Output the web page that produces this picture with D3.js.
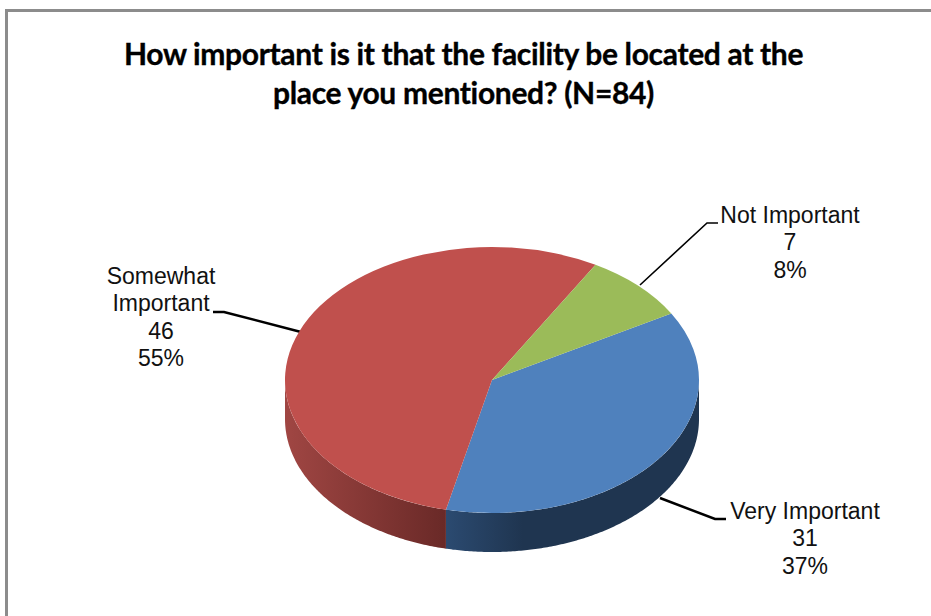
<!DOCTYPE html>
<html>
<head>
<meta charset="utf-8">
<script src="https://cdn.jsdelivr.net/npm/d3@7"></script>
<style>
  html, body { margin: 0; padding: 0; background: #fff; }
  svg { display: block; }
  .title { font-family: Lato, sans-serif; font-weight: 700; font-size: 30px; letter-spacing: -0.33px; fill: #000; stroke: #000; stroke-width: 0.35px; text-anchor: middle; }
  .lab { font-family: "Liberation Sans", Arial, sans-serif; font-size: 23px; fill: #111; text-anchor: middle; }
</style>
</head>
<body>
<div id="chart"></div>
<script>
// Data
var titleLines = ["How important is it that the facility be located at the", "place you mentioned? (N=84)"];
var categories = ["Very Important", "Somewhat Important", "Not Important"];
var counts = [31, 46, 7];
var percents = ["37%", "55%", "8%"];
var colors = ["#4f81bd", "#c0504d", "#9bbb59"];

var width = 931, height = 616;
var cx = 492, cy = 380, rx = 207, ry = 133, depth = 39;

var svg = d3.select("#chart").append("svg")
  .attr("width", width)
  .attr("height", height);

// frame, only top and left show in the crop
svg.append("path")
  .attr("d", "M6.5," + height + "V10.5H" + width)
  .attr("fill", "none")
  .attr("stroke", "#8c8c8c")
  .attr("stroke-width", 3);

svg.selectAll("text.title")
  .data(titleLines)
  .enter()
  .append("text")
    .attr("class", "title")
    .attr("x", 463.5)
    .attr("y", function(d, i){ return 65 + i * 38.5; })
    .text(function(d){ return d; });

// leader lines
var leaders = [
  {pts: [[660, 498], [715, 519], [726, 519]], w: 2.5},
  {pts: [[301, 332], [224, 312], [213, 312]], w: 2.5},
  {pts: [[640, 285], [707, 223], [718, 223]], w: 1.6}
];
svg.selectAll("path.leader")
  .data(leaders)
  .enter()
  .append("path")
    .attr("class", "leader")
    .attr("fill", "none")
    .attr("stroke", "#000")
    .attr("stroke-width", function(d){ return d.w; })
    .attr("d", function(d){ return d3.line()(d.pts); });

// pie, first slice starts 60deg clockwise from 12 o'clock
var slices = d3.pie().sort(null)
  .startAngle(Math.PI / 3)
  .endAngle(Math.PI / 3 + 2 * Math.PI)(counts);

var defs = svg.append("defs");
function sideGradient(id, x1, x2, stops){
  var g = defs.append("linearGradient")
    .attr("id", id)
    .attr("gradientUnits", "userSpaceOnUse")
    .attr("x1", x1).attr("x2", x2)
    .attr("y1", 0).attr("y2", 0);
  stops.forEach(function(s){
    g.append("stop").attr("offset", s[0]).attr("stop-color", s[1]);
  });
}
sideGradient("side-0", 447, 700, [[0, "#2b4a70"], [0.3, "#1f3550"], [1, "#1f3550"]]);
sideGradient("side-1", 285, 447, [[0, "#a04643"], [1, "#692927"]]);

// side wall: only the front half of the rim can be seen
var wall = d3.area()
  .x(function(a){ return cx + rx * Math.sin(a); })
  .y0(function(a){ return cy - ry * Math.cos(a); })
  .y1(function(a){ return cy - ry * Math.cos(a) + depth; });

slices.forEach(function(s, i){
  var a0 = Math.max(s.startAngle, Math.PI / 2);
  var a1 = Math.min(s.endAngle, 3 * Math.PI / 2);
  if(a1 <= a0){ return; }
  var steps = d3.range(a0, a1, 0.01).concat([a1]);
  svg.append("path")
    .attr("d", wall(steps))
    .attr("fill", "url(#side-" + i + ")");
});

// top face is a circle squashed by the tilt
var arc = d3.arc().innerRadius(0).outerRadius(rx);
svg.append("g")
  .attr("transform", "translate(" + cx + "," + cy + ") scale(1," + (ry / rx) + ")")
  .selectAll("path")
  .data(slices)
  .enter()
  .append("path")
    .attr("d", arc)
    .attr("fill", function(d, i){ return colors[i]; });

// data labels
var labelPos = [
  {x: 805, y: 519},
  {x: 161, y: 284},
  {x: 790, y: 223}
];
var labelLines = [
  [categories[0], counts[0], percents[0]],
  ["Somewhat", "Important", counts[1], percents[1]],
  [categories[2], counts[2], percents[2]]
];
labelLines.forEach(function(lines, i){
  svg.append("text")
    .attr("class", "lab")
    .selectAll("tspan")
    .data(lines)
    .enter()
    .append("tspan")
      .attr("x", labelPos[i].x)
      .attr("y", function(d, j){ return labelPos[i].y + j * 27.3; })
      .text(function(d){ return d; });
});
</script>
</body>
</html>
